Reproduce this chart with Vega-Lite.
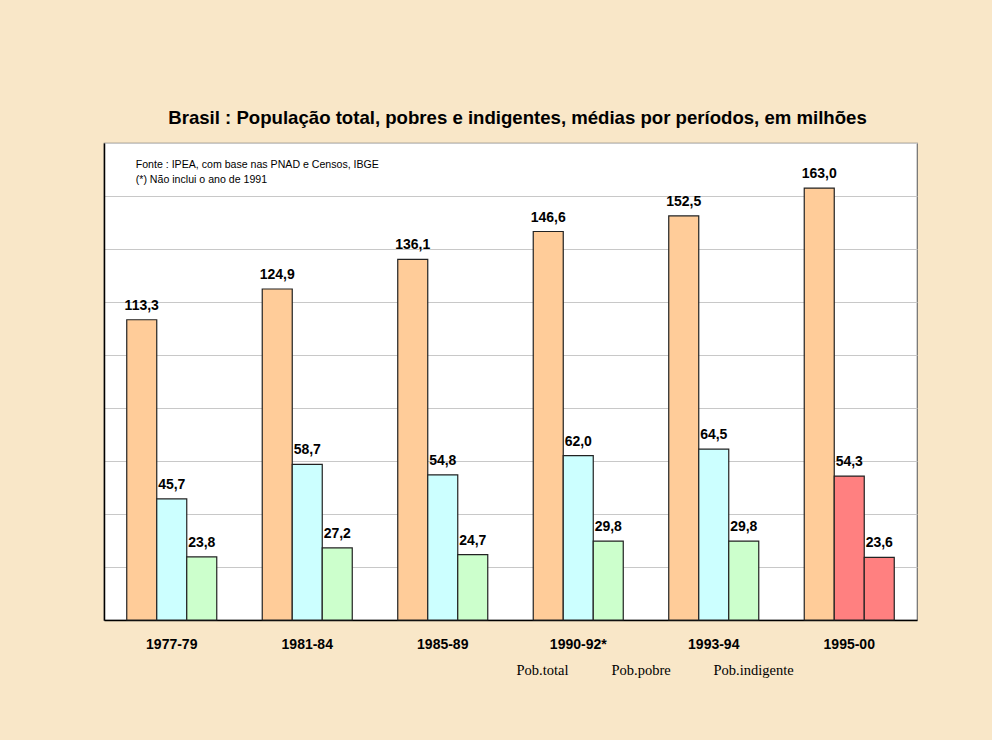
{
  "$schema": "https://vega.github.io/schema/vega-lite/v6.json",
  "width": 813,
  "height": 477,
  "autosize": "none",
  "padding": {"left": 104, "top": 143, "right": 75, "bottom": 120},
  "background": "#F9E7C8",
  "title": {
    "text": "Brasil : População total, pobres e indigentes, médias por períodos, em milhões",
    "font": "Liberation Sans",
    "fontSize": 18.6,
    "fontWeight": "bold",
    "color": "#000000",
    "anchor": "middle",
    "offset": 15,
    "dx": 7
  },
  "data": {
    "values": [
      {"periodo": "1977-79", "serie": "Pob.total", "valor": 113.3, "rotulo": "113,3"},
      {"periodo": "1977-79", "serie": "Pob.pobre", "valor": 45.7, "rotulo": "45,7"},
      {"periodo": "1977-79", "serie": "Pob.indigente", "valor": 23.8, "rotulo": "23,8"},
      {"periodo": "1981-84", "serie": "Pob.total", "valor": 124.9, "rotulo": "124,9"},
      {"periodo": "1981-84", "serie": "Pob.pobre", "valor": 58.7, "rotulo": "58,7"},
      {"periodo": "1981-84", "serie": "Pob.indigente", "valor": 27.2, "rotulo": "27,2"},
      {"periodo": "1985-89", "serie": "Pob.total", "valor": 136.1, "rotulo": "136,1"},
      {"periodo": "1985-89", "serie": "Pob.pobre", "valor": 54.8, "rotulo": "54,8"},
      {"periodo": "1985-89", "serie": "Pob.indigente", "valor": 24.7, "rotulo": "24,7"},
      {"periodo": "1990-92*", "serie": "Pob.total", "valor": 146.6, "rotulo": "146,6"},
      {"periodo": "1990-92*", "serie": "Pob.pobre", "valor": 62.0, "rotulo": "62,0"},
      {"periodo": "1990-92*", "serie": "Pob.indigente", "valor": 29.8, "rotulo": "29,8"},
      {"periodo": "1993-94", "serie": "Pob.total", "valor": 152.5, "rotulo": "152,5"},
      {"periodo": "1993-94", "serie": "Pob.pobre", "valor": 64.5, "rotulo": "64,5"},
      {"periodo": "1993-94", "serie": "Pob.indigente", "valor": 29.8, "rotulo": "29,8"},
      {"periodo": "1995-00", "serie": "Pob.total", "valor": 163.0, "rotulo": "163,0"},
      {"periodo": "1995-00", "serie": "Pob.pobre", "valor": 54.3, "rotulo": "54,3"},
      {"periodo": "1995-00", "serie": "Pob.indigente", "valor": 23.6, "rotulo": "23,6"}
    ]
  },
  "layer": [
    {
      "mark": {"type": "bar", "stroke": "#222222", "strokeWidth": 1.2, "opacity": 1},
      "encoding": {
        "x": {
          "field": "periodo",
          "type": "nominal",
          "sort": null,
          "scale": {"paddingInner": 0, "paddingOuter": 0},
          "axis": {
            "title": null,
            "labelAngle": 0,
            "labelFont": "Liberation Sans",
            "labelFontSize": 14,
            "labelFontWeight": "bold",
            "labelColor": "#000000",
            "labelPadding": 17,
            "ticks": false,
            "domainColor": "#000000",
            "domainWidth": 1.5,
            "grid": false
          }
        },
        "xOffset": {
          "field": "serie",
          "type": "nominal",
          "sort": ["Pob.total", "Pob.pobre", "Pob.indigente"],
          "scale": {"paddingInner": 0, "paddingOuter": 0.758}
        },
        "y": {
          "field": "valor",
          "type": "quantitative",
          "scale": {"domain": [0, 180], "nice": false, "zero": true},
          "axis": {
            "title": null,
            "labels": false,
            "ticks": false,
            "values": [0, 20, 40, 60, 80, 100, 120, 140, 160, 180],
            "grid": true,
            "gridColor": "#C8C8C8",
            "gridWidth": 1,
            "domainColor": "#000000",
            "domainWidth": 1.5
          }
        },
        "color": {
          "condition": {"test": "datum.periodo === '1995-00' && datum.serie !== 'Pob.total'", "value": "#FF8080"},
          "field": "serie",
          "type": "nominal",
          "sort": ["Pob.total", "Pob.pobre", "Pob.indigente"],
          "scale": {"domain": ["Pob.total", "Pob.pobre", "Pob.indigente"], "range": ["#FFCC99", "#CCFFFF", "#CCFFCC"]},
          "legend": {
            "title": null,
            "orient": "none",
            "legendX": 398,
            "legendY": 521,
            "direction": "horizontal",
            "columns": 3,
            "gridAlign": "none",
            "columnPadding": 28,
            "symbolSize": 0,
            "symbolOpacity": 0,
            "symbolStrokeWidth": 0,
            "labelOffset": 0,
            "labelFont": "Liberation Serif",
            "labelFontSize": 14.5,
            "labelColor": "#000000",
            "padding": 0
          }
        }
      }
    },
    {
      "mark": {"type": "text", "baseline": "alphabetic", "dy": -10, "font": "Liberation Sans", "fontSize": 14, "fontWeight": "bold", "color": "#000000"},
      "encoding": {
        "x": {"field": "periodo", "type": "nominal", "sort": null},
        "xOffset": {"field": "serie", "type": "nominal", "sort": ["Pob.total", "Pob.pobre", "Pob.indigente"]},
        "y": {"field": "valor", "type": "quantitative"},
        "text": {"field": "rotulo", "type": "nominal"}
      }
    },
    {
      "data": {"values": [{"nota": "Fonte : IPEA, com base nas PNAD e Censos, IBGE\n(*) Não inclui o ano de 1991"}]},
      "mark": {"type": "text", "align": "left", "baseline": "top", "dx": -36, "dy": 17, "lineBreak": "\n", "lineHeight": 14.5, "font": "Liberation Sans", "fontSize": 10.6, "color": "#000000"},
      "encoding": {
        "x": {"datum": "1977-79"},
        "y": {"datum": 180},
        "text": {"field": "nota", "type": "nominal"}
      }
    }
  ],
  "config": {
    "view": {"fill": "#FFFFFF", "stroke": "#6E6E6E", "strokeWidth": 1.2}
  }
}
